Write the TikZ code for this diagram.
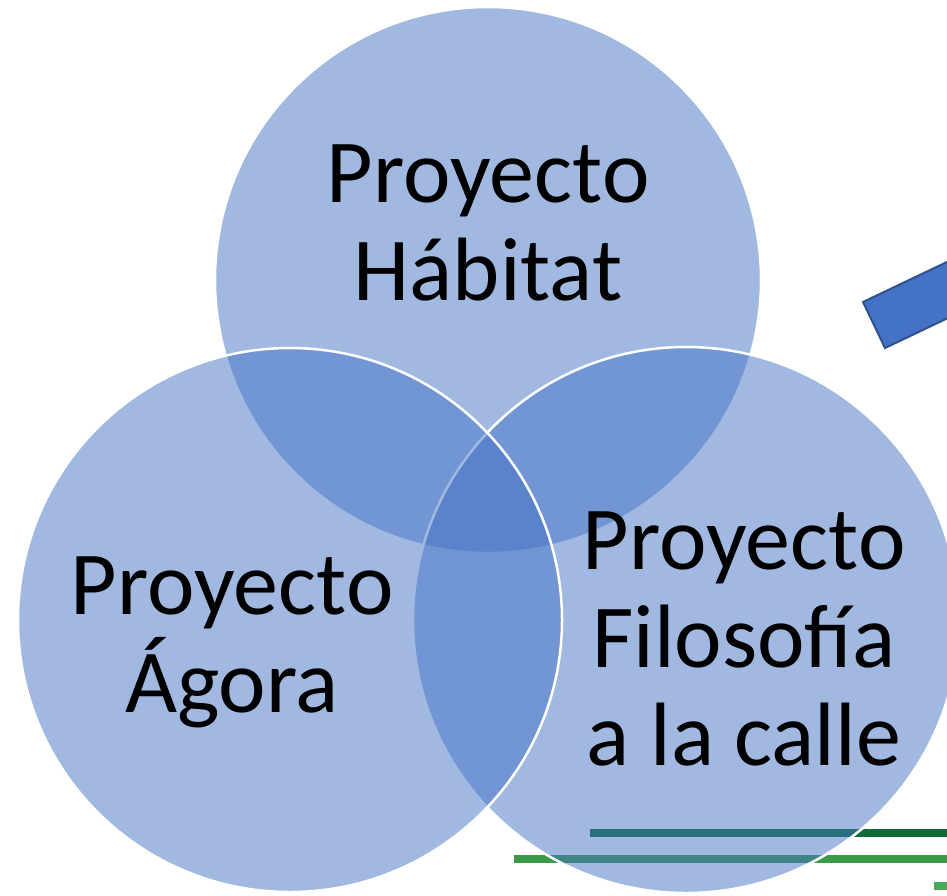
\documentclass[tikz,border=0pt]{standalone}
\usepackage{fontspec}
\setmainfont{Carlito}
\definecolor{vennblue}{HTML}{4472C4}
\definecolor{barblue}{HTML}{4472C4}
\definecolor{barline}{HTML}{2F528F}
\definecolor{darkbar}{HTML}{0E6B3A}
\definecolor{midbar}{HTML}{3A9A48}
\definecolor{lightbar}{HTML}{4CA85A}
\tikzset{
  venn/.style={fill=vennblue, fill opacity=0.5, draw=white, draw opacity=1, line width=2.5pt},
  label/.style={font=\fontsize{90}{98}\selectfont, align=center, anchor=base, text opacity=1},
  bar/.style={line width=8pt}
}
\begin{document}
\begin{tikzpicture}[x=1pt, y=-1pt]
    \useasboundingbox (0, 0) rectangle (947, 895) ;
    \clip (0, 0) rectangle (947, 895) ;
    % lines at the bottom right, under the circles
    \draw[bar, darkbar] (590, 833) -- (950, 833) ;
    \draw[bar, midbar] (514, 859) -- (950, 859) ;
    \draw[bar, lightbar] (934, 886) -- (950, 886) ;
    % the three circles
    \draw[venn] (488, 280) circle (273) ;
    \draw[venn] (686, 620) circle (273) ;
    \draw[venn] (290, 620) circle (272) ;
    % the tilted bar at the top right
    \draw[fill=barblue, draw=barline, line width=2pt]
      (863, 302) -- (970, 251) -- (992, 297) -- (885, 348) -- cycle ;
    % texts
    \node[label] (habitat) at (488, 300) {Proyecto\\Hábitat} ;
    \node[label] (agora) at (232, 712) {Proyecto\\Ágora} ;
    \node[label] (filosofia) at (744, 765) {Proyecto\\Filosofía\\a la calle} ;
\end{tikzpicture}
\end{document}
